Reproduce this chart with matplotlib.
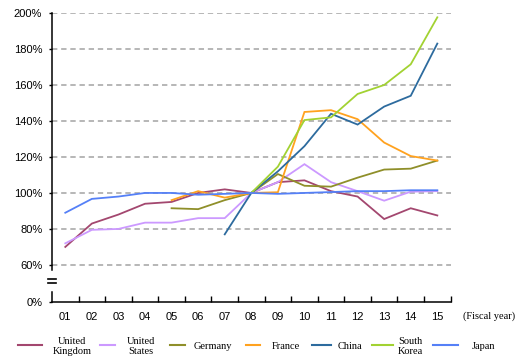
import numpy as np
import matplotlib
matplotlib.use("Agg")
import matplotlib.pyplot as plt
from matplotlib.lines import Line2D

plt.rcParams['font.family'] = ['Liberation Sans', 'DejaVu Sans']

years = ["01", "02", "03", "04", "05", "06", "07", "08",
         "09", "10", "11", "12", "13", "14", "15"]

# index values (%), fiscal 2008 = 100; None where a series has no data
uk = [70, 83, 88, 94, 95, 100, 102, 100, 106, 107, 101, 98, 85.5, 91.5, 87.5]
us = [72, 79.5, 80, 83.5, 83.5, 86, 86, 100, 106, 116, 106, 101, 95.7, 100.7, 101]
germany = [None, None, None, None, 91.5, 91, 96, 100, 110.5, 104, 103.5, 108.5, 113, 113.5, 118]
france = [None, None, None, None, 96, 101, 97.4, 100, 100.4, 145, 146, 141, 128, 120.5, 118]
china = [None, None, None, None, None, None, 77, 100, 112, 126, 144, 138, 148, 154, 183]
korea = [None, None, None, None, None, None, None, 100, 114.6, 140.5, 142, 155, 160, 171.5, 197.6]
japan = [89, 96.7, 98, 100, 100, 99, 99.5, 100, 99.5, 100, 100.5, 101, 101, 101.5, 101.5]

names = ["United\nKingdom", "United\nStates", "Germany", "France", "China", "South\nKorea", "Japan"]
series = [uk, us, germany, france, china, korea, japan]
colors = ["#a3476f", "#cc99ff", "#8f8f2a", "#ffa21f", "#2d6b9e", "#a2d232", "#5580f7"]

y_ticks = [200, 180, 160, 140, 120, 100, 80, 60]
zero_pos = 39.4   # where the 0% baseline sits below the axis break

W, H = 517, 361
fig = plt.figure(figsize=(W / 100, H / 100), dpi=100)
ax = fig.add_axes([52 / W, (H - 302) / H, 398.6 / W, 289 / H])

x = np.arange(1, len(years) + 1)
for vals, c in zip(series, colors):
    v = np.array([np.nan if a is None else a for a in vals], dtype=float)
    ax.plot(x, v, color=c, lw=1.3, solid_joinstyle='miter', zorder=3)

ax.set_xlim(0.5, 15.5)
ax.set_ylim(zero_pos, 200)

for t in y_ticks:
    ax.axhline(t, color='#a3a3a3', lw=1.1, dashes=(3.5, 2.5), zorder=1)

ax.set_yticks(y_ticks + [zero_pos])
ax.set_yticklabels([f"{t}%" for t in y_ticks] + ["0%"])
ax.tick_params(axis='y', length=2, width=1, pad=5, labelsize=8)

ax.set_xticks(x)
ax.set_xticklabels(years)
ax.set_xticks(np.arange(1.5, 16, 1), minor=True)
ax.tick_params(axis='x', which='major', length=0, pad=7, labelsize=8)
ax.tick_params(axis='x', which='minor', direction='in', length=4, width=1)

for s in ['top', 'right', 'left']:
    ax.spines[s].set_visible(False)
ax.spines['bottom'].set_linewidth(1.1)

# broken y axis with "=" mark
yt = ax.get_yaxis_transform()
ax.plot([0, 0], [57.2, 200], color='black', lw=1.1, transform=yt, clip_on=False)
ax.plot([0, 0], [zero_pos, 45.2], color='black', lw=1.1, transform=yt, clip_on=False)
for yb in (52.0, 49.8):
    ax.plot([-0.011, 0.011], [yb, yb], color='black', lw=1.2, transform=yt, clip_on=False)

fig.text(463 / W, 1 - 316 / H, "(Fiscal year)", family='Liberation Serif',
         fontsize=7.5, va='center', ha='left')

# legend along the bottom
handle_x = [(18, 42), (100, 115), (170, 185), (246, 260), (312, 331), (372, 393), (433, 458)]
text_x = [72, 141, 194, 272, 338, 410, 472]
text_ha = ['center', 'center', 'left', 'left', 'left', 'center', 'left']
ly = 1 - 345 / H
for name, c, (x0, x1), tx, ha in zip(names, colors, handle_x, text_x, text_ha):
    fig.add_artist(Line2D([x0 / W, x1 / W], [ly, ly], color=c, lw=1.5))
    if '\n' in name:
        fig.text(tx / W, 1 - 337.5 / H, name, family='Liberation Serif', fontsize=7.5,
                 ha=ha, va='top', multialignment='center', linespacing=1.1)
    else:
        fig.text(tx / W, 1 - 346.5 / H, name, family='Liberation Serif', fontsize=7.5,
                 ha=ha, va='center')

fig.savefig("out.png", dpi=100)
